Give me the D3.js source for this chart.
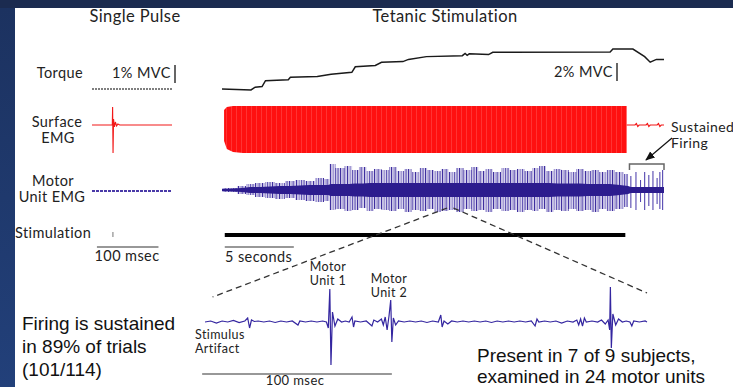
<!DOCTYPE html>
<html>
<head>
<meta charset="utf-8">
<script src="https://cdn.jsdelivr.net/npm/d3@7"></script>
<style>
  body { margin: 0; background: #1b2b50; overflow: hidden; }
</style>
</head>
<body>
<div id="chart"></div>
<script>
// ---- data ----
// single pulse (ms)
var spTorque = [[0, 0], [130, 0]];
var spEmg = [[0, 0], [33, 0], [33.5, 18], [34.2, -28], [35, 6], [36.5, -2], [38, 3], [40, -1], [42, 1], [45, 0], [130, 0]];
var spMu = [[0, 0], [130, 0]];
var spStim = 34;

// tetanic stimulation (s), torque in % MVC
var torqueT = [0, 2.1, 2.4, 2.9, 3.15, 4.8, 4.95, 6.9, 7.9, 9.4, 9.65, 11.1, 11.55, 13.1, 13.5, 14.8, 17.4, 17.6, 17.75, 17.9, 19.3, 19.6, 28.1, 28.3, 29.75, 30.6, 31.0, 31.45, 32];
var torqueV = [0, -0.05, 0.1, 0.13, 0.45, 0.5, 0.63, 0.68, 0.8, 0.9, 1.2, 1.27, 1.44, 1.48, 1.6, 1.75, 1.8, 1.92, 1.82, 1.9, 1.86, 1.98, 2.0, 2.16, 2.16, 1.75, 1.45, 1.6, 1.6];

// surface EMG envelope during stimulation
var emgT = [0.15, 0.35, 0.8, 1.5, 29.2, 29.3];
var emgHi = [15, 18, 19, 19, 19, 19];
var emgLo = [-16, -24, -27, -28, -28, -28];
var emgPost = [[29.3, 0], [29.9, 0], [30, 1.5], [30.1, -1.5], [30.2, 0], [30.7, 0], [30.8, 1.5], [30.9, -1.5], [31, 0], [31.5, 0], [31.6, 1.5], [31.7, -1.5], [31.8, 0], [32, 0]];

// motor unit EMG envelopes
var muT = [0, 0.72, 1.45, 2.03, 2.75, 3.48, 4.2, 4.92, 5.65, 6.37, 7.1, 7.67, 7.89, 8.54, 9.2, 9.63, 10.2, 10.7, 11.3, 11.8, 12.4, 12.9, 13.5, 14, 14.6, 15.1, 15.6, 16.1, 16.7, 17.2, 17.8, 18.3, 18.8, 19.3, 19.9, 20.5, 21.1, 21.6, 22.2, 22.7, 23.2, 23.7, 24.3, 24.8, 25.4, 25.9, 26.5, 27, 27.6, 28.1, 28.8, 29.4];
var muUp = [2, 2, 4, 6, 7, 8, 7, 9, 10, 9, 12, 11, 26, 22, 24, 20, 23, 19, 21, 20, 23, 19, 21, 18, 22, 20, 19, 21, 18, 22, 20, 23, 19, 21, 18, 22, 20, 21, 19, 22, 24, 19, 21, 20, 18, 21, 19, 20, 18, 20, 18, 16];
var muDn = [2, 2, 4, 5, 7, 8, 9, 8, 10, 11, 12, 11, 20, 19, 21, 20, 18, 21, 19, 20, 21, 19, 22, 20, 21, 19, 22, 21, 20, 22, 19, 21, 20, 22, 19, 21, 20, 22, 20, 21, 19, 22, 20, 21, 19, 21, 20, 22, 19, 21, 19, 17];
var muCore = [1, 1.5, 2, 3, 3, 3.5, 4, 4, 4.5, 5, 5, 5, 6, 6, 6, 6.5, 6.5, 7, 7, 7, 7, 7, 7, 7, 7, 7, 7, 7, 7, 7, 7, 7, 7, 7, 7, 7, 7, 7, 7, 7, 7, 7, 6.5, 6.5, 6.5, 6.5, 6, 6, 6, 6, 5, 4];
// sustained firing after stimulation
var postT = [29.6, 29.97, 30.3, 30.6, 30.9, 31.2, 31.5, 31.7, 31.9];
var postUp = [14, 18, 10, 18, 15, 19, 12, 18, 20];
var postDn = [-18, -20, -12, -20, -16, -20, -14, -19, -20];
var stimOn = 0.2, stimOff = 29.2;

// inset, 100 ms expanded (ms, uV)
var inset = [[0, 0], [3, 1], [6, -1], [9, 1], [12, 0], [15, 1.5], [18, -0.5], [21, 1], [22.5, 4], [23.5, -6], [24.5, 2], [26, 0.5], [28, 1], [31, 0], [34, 1], [37, -0.5], [40, 1], [43, 0], [46, 1], [49, -3], [50, 1], [53, 0], [56, 1], [59, 0], [62, 1], [64, 0], [65, -6], [65.8, 33], [66.4, -43], [67.2, 10], [68.5, -4], [70, 3], [72, 0], [74, 1], [76, 0], [77.5, 5], [78.3, -5], [79, 1], [82, 0], [85, 1], [88, -4], [89, 2], [91, 0], [93, 3], [94, -3], [95, 5], [96, -8], [97, 6], [97.9, 22], [98.5, -20], [99.3, 4], [100.5, -3], [102, 1], [105, 0], [108, 1], [111, 0], [114, 1], [117, -0.5], [120, 1], [123, 0], [124.3, 7], [125, -5], [126, 1], [128, -2], [130, 1], [133, 0], [136, 1], [139, 0], [142, 1], [145, 0], [148, 1], [151, -0.5], [154, 1], [157, 0], [160, 1], [163, 0], [166, 1], [169, 0], [172, 1], [174, -4], [175, 3], [176, 0], [179, 1], [182, 0], [185, 1], [188, -1], [191, 1], [194, 0], [196, 2], [197, -3], [198, 3], [199, -4], [200, 4], [201, 0], [204, 1], [207, 0], [209, 2], [211, -2], [212.5, 2], [213.3, -8], [213.7, 35], [214.2, -26], [215, 8], [216.5, -3], [218, 3], [220, 0], [222, 1], [224, 0], [225, -4], [226, 1], [229, 0], [232, 1], [233, 0]];

var w = 733, h = 387;

var spX = d3.scaleLinear().domain([0, 130]).range([92, 172]);
var tetX = d3.scaleLinear().domain([0, 32]).range([222, 664]);
var inX = d3.scaleLinear().domain([0, 233]).range([205, 647]);
var torqueY = d3.scaleLinear().domain([0, 2]).range([89, 52]);
var emgY = d3.scaleLinear().domain([-30, 30]).range([155, 95]);
var muY = d3.scaleLinear().domain([-30, 30]).range([220, 160]);
var inY = d3.scaleLinear().domain([-50, 50]).range([372, 272]);

var svg = d3.select("#chart").append("svg")
  .attr("width", w).attr("height", h);

// slide background
var defs = svg.append("defs");
var grad = defs.append("linearGradient").attr("id", "side").attr("x1", 0).attr("y1", 0).attr("x2", 0).attr("y2", 1);
grad.append("stop").attr("offset", "0%").attr("stop-color", "#1c3260");
grad.append("stop").attr("offset", "100%").attr("stop-color", "#22407a");
svg.append("rect").attr("width", w).attr("height", h).attr("fill", "#1b2b50");
svg.append("rect").attr("y", 8).attr("width", 15).attr("height", h - 8).attr("fill", "url(#side)");
svg.append("rect").attr("x", 15).attr("y", 8).attr("width", w - 15).attr("height", h - 8).attr("fill", "#fff");

// stripe fills for the dense EMG traces
var red = defs.append("pattern").attr("id", "redFill").attr("patternUnits", "userSpaceOnUse")
  .attr("width", 5).attr("height", 10);
red.append("rect").attr("width", 5).attr("height", 10).attr("fill", "#ff1010");
red.append("rect").attr("x", 1).attr("width", 0.6).attr("height", 10).attr("fill", "#ff4a4a");

// irregular stripe tile for the motor unit spikes
var stripes = [[0, 1.1, "#3f2f9f"], [2.5, 1.3, "#9a92cf"], [4.3, 0.9, "#5a4cb0"], [7, 1.1, "#3f2f9f"],
  [9.6, 1.4, "#a49cd4"], [12.1, 1, "#5a4cb0"], [14.6, 0.9, "#4636a6"]];
var blue = defs.append("pattern").attr("id", "muFill").attr("patternUnits", "userSpaceOnUse")
  .attr("width", 17).attr("height", 10);
blue.append("rect").attr("width", 17).attr("height", 10).attr("fill", "#d6d2ec");
stripes.forEach(function (s) {
  blue.append("rect").attr("x", s[0]).attr("width", s[1]).attr("height", 10).attr("fill", s[2]);
});

defs.append("marker").attr("id", "arrow").attr("viewBox", "0 0 10 10")
  .attr("refX", 9).attr("refY", 5).attr("markerWidth", 8).attr("markerHeight", 8)
  .attr("orient", "auto")
  .append("path").attr("d", "M0,1 L10,5 L0,9 Z").attr("fill", "#111");

var line = function (xs, ys) {
  return d3.line().x(function (d) { return xs(d[0]); }).y(function (d) { return ys(d[1]); });
};

// ---- single pulse column ----
svg.append("path").datum(spTorque).attr("d", line(spX, torqueY))
  .attr("fill", "none").attr("stroke", "#555").attr("stroke-width", 1.6).attr("stroke-dasharray", "2,1");
svg.append("path").datum(spEmg).attr("d", line(spX, emgY))
  .attr("fill", "none").attr("stroke", "#f21818").attr("stroke-width", 1.1);
svg.append("path").datum(spMu).attr("d", line(spX, function (v) { return muY(v) + 1; }))
  .attr("fill", "none").attr("stroke", "#4a3aa8").attr("stroke-width", 1.8).attr("stroke-dasharray", "3,1");
svg.append("line").attr("x1", spX(spStim)).attr("x2", spX(spStim)).attr("y1", 232).attr("y2", 237)
  .attr("stroke", "#777").attr("stroke-width", 1);

// ---- tetanic column ----
var tor = torqueT.map(function (t, i) { return [t, torqueV[i]]; });
svg.append("path").datum(tor).attr("d", line(tetX, torqueY))
  .attr("fill", "none").attr("stroke", "#1a1a1a").attr("stroke-width", 1.5);

var emgEnv = emgT.map(function (t, i) { return { t: t, hi: emgHi[i], lo: emgLo[i] }; });
svg.append("path").datum(emgEnv)
  .attr("d", d3.area().x(function (d) { return tetX(d.t); })
    .y0(function (d) { return emgY(d.lo); }).y1(function (d) { return emgY(d.hi); }))
  .attr("fill", "url(#redFill)");
svg.append("path").datum(emgPost).attr("d", line(tetX, emgY))
  .attr("fill", "none").attr("stroke", "#f21818").attr("stroke-width", 1.2);

var muEnv = muT.map(function (t, i) { return { t: t, up: muUp[i], dn: muDn[i], c: muCore[i] }; });
svg.append("path").datum(muEnv)
  .attr("d", d3.area().curve(d3.curveStep).x(function (d) { return tetX(d.t); })
    .y0(function (d) { return muY(-d.dn); }).y1(function (d) { return muY(d.up); }))
  .attr("fill", "url(#muFill)");
svg.selectAll(".post").data(postT).enter().append("line")
  .attr("x1", function (d) { return tetX(d); }).attr("x2", function (d) { return tetX(d); })
  .attr("y1", function (d, i) { return muY(postUp[i]); })
  .attr("y2", function (d, i) { return muY(postDn[i]); })
  .attr("stroke", "#5446b0").attr("stroke-width", 1.1);
var coreEnv = muEnv.concat([{ t: 29.6, c: 3 }, { t: 32, c: 3 }]);
svg.append("path").datum(coreEnv)
  .attr("d", d3.area().x(function (d) { return tetX(d.t); })
    .y0(function (d) { return muY(-d.c); }).y1(function (d) { return muY(d.c); }))
  .attr("fill", "#2c1c8e");

// stimulation train
svg.append("line").attr("x1", tetX(stimOn)).attr("x2", tetX(stimOff)).attr("y1", 235).attr("y2", 235)
  .attr("stroke", "#000").attr("stroke-width", 4);

// sustained firing bracket + arrow
svg.append("path")
  .attr("d", "M" + tetX(29.5) + ",170 V164 H" + tetX(32) + " V170")
  .attr("fill", "none").attr("stroke", "#666").attr("stroke-width", 1.5);
svg.append("line").attr("x1", 672).attr("y1", 138).attr("x2", 646).attr("y2", 160)
  .attr("stroke", "#111").attr("stroke-width", 1.2).attr("marker-end", "url(#arrow)");

// zoom lines to inset
var dash = svg.append("g").attr("stroke", "#333").attr("stroke-width", 1.3)
  .attr("stroke-dasharray", "6,4").attr("fill", "none");
dash.append("line").attr("x1", tetX(16.3)).attr("y1", 208).attr("x2", inX(4)).attr("y2", 297);
dash.append("line").attr("x1", tetX(16.75)).attr("y1", 208).attr("x2", inX(233)).attr("y2", 293);

// inset trace
svg.append("path").datum(inset).attr("d", line(inX, inY))
  .attr("fill", "none").attr("stroke", "#3426a0").attr("stroke-width", 1.2);

// scale bars
var bars = svg.append("g").attr("stroke", "#333").attr("stroke-width", 1.2);
bars.append("line").attr("x1", spX(8)).attr("x2", spX(108)).attr("y1", 247).attr("y2", 247);
bars.append("line").attr("x1", tetX(0.2)).attr("x2", tetX(5.2)).attr("y1", 247).attr("y2", 247);
bars.append("line").attr("x1", inX(-1.5)).attr("x2", inX(98.5)).attr("y1", 374).attr("y2", 374);
bars.append("line").attr("x1", 175).attr("x2", 175).attr("y1", 65).attr("y2", 83).attr("stroke-width", 1.5);
bars.append("line").attr("x1", 617).attr("x2", 617).attr("y1", 63).attr("y2", 81).attr("stroke-width", 1.5);

// ---- text ----
var gill = "Lato, 'Open Sans', sans-serif";
function label(x, y, s, size, anchor) {
  svg.append("text").attr("x", x).attr("y", y).attr("font-family", gill)
    .attr("font-size", size).attr("letter-spacing", 0.4).attr("fill", "#222")
    .attr("text-anchor", anchor || "start").text(s);
}
label(135, 22, "Single Pulse", 16.5, "middle");
label(445, 22, "Tetanic Stimulation", 16.5, "middle");
label(83, 78, "Torque", 14.5, "end");
label(112, 78, "1% MVC", 14.5);
label(554, 77, "2% MVC", 14.5);
label(57, 127, "Surface", 14.5, "middle");
label(58, 143, "EMG", 14.5, "middle");
label(53, 186, "Motor", 14.5, "middle");
label(52, 202, "Unit EMG", 14.5, "middle");
label(15, 238, "Stimulation", 14.5);
label(127, 261, "100 msec", 14.5, "middle");
label(225, 262, "5 seconds", 14.5);
label(671, 132, "Sustained", 14);
label(671, 148, "Firing", 14);
label(328, 271, "Motor", 12.5, "middle");
label(328, 285, "Unit 1", 12.5, "middle");
label(389, 283, "Motor", 12.5, "middle");
label(389, 297, "Unit 2", 12.5, "middle");
label(195, 339, "Stimulus", 12.5);
label(195, 353, "Artifact", 12.5);
label(295, 385, "100 msec", 13, "middle");

var notes = svg.append("g").attr("font-family", "'Liberation Sans', Arial, sans-serif")
  .attr("font-size", 19).attr("fill", "#111");
["Firing is sustained", "in 89% of trials", "(101/114)"].forEach(function (s, i) {
  notes.append("text").attr("x", 22).attr("y", 330 + i * 23).text(s);
});
["Present in 7 of 9 subjects,", "examined in 24 motor units"].forEach(function (s, i) {
  notes.append("text").attr("x", 477).attr("y", 362 + i * 21).text(s);
});
</script>
</body>
</html>
